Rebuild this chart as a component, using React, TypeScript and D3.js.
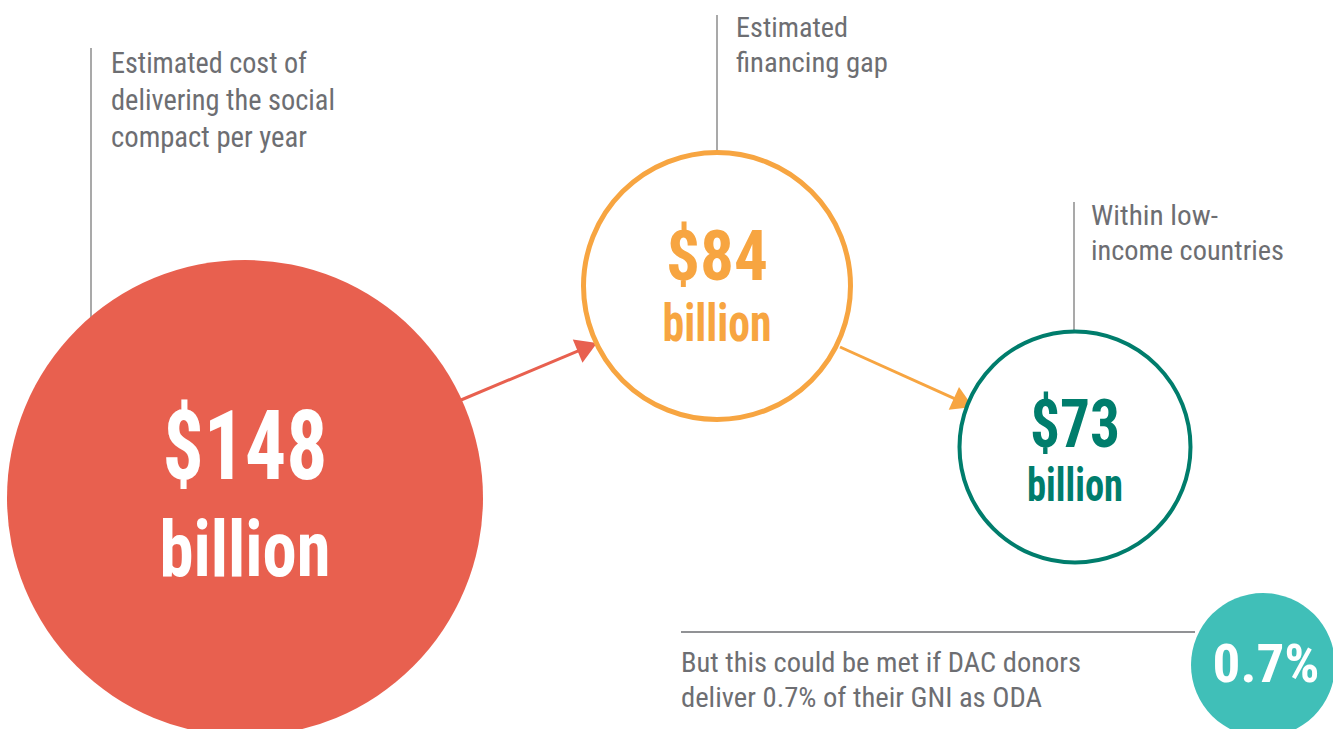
import React from "react";
import * as d3 from "d3";

// ---- data ----
const amounts = [148, 84, 73];
const amountLabels = ["$148", "$84", "$73"];
const unitLabel = "billion";
const captions = [
  ["Estimated cost of", "delivering the social", "compact per year"],
  ["Estimated", "financing gap"],
  ["Within low-", "income countries"],
];
const odaShare = 0.7;
const odaLabel = d3.format(".1f")(odaShare) + "%";
const noteLines = ["But this could be met if DAC donors", "deliver 0.7% of their GNI as ODA"];

// ---- layout / style ----
const W = 1333;
const H = 729;
const GREY = "#6d6e72";
const LINE_GREY = "#8c8c8c";
const FONT = "'Roboto Condensed', 'Liberation Sans Narrow', 'Liberation Sans', Arial, sans-serif";

const circles = [
  { cx: 245, cy: 498, r: 238, fill: "#e8604f", stroke: "none", sw: 0, text: "#ffffff",
    numSize: 96, numBase: 479, numW: 165, unitSize: 78, unitBase: 576, unitW: 171 },
  { cx: 717, cy: 286, r: 133.5, fill: "#ffffff", stroke: "#f7a541", sw: 5, text: "#f7a541",
    numSize: 71, numBase: 280, numW: 102, unitSize: 51, unitBase: 341, unitW: 109 },
  { cx: 1075, cy: 447, r: 115.5, fill: "#ffffff", stroke: "#007d6c", sw: 4, text: "#007d6c",
    numSize: 66, numBase: 447, numW: 90, unitSize: 46, unitBase: 501, unitW: 96 },
];

const captionLayout = [
  { lx: 91, ly1: 48, ly2: 330, tx: 111, base: 73, step: 37, size: 29, widths: [196, 224, 196] },
  { lx: 717, ly1: 15, ly2: 152, tx: 736, base: 37, step: 35, size: 27.5, widths: [112, 152] },
  { lx: 1074, ly1: 202, ly2: 331, tx: 1091, base: 225, step: 35, size: 27.5, widths: [127, 193] },
];

const arrows = [
  { x1: 461, y1: 400, x2: 597, y2: 343, color: "#e8604f" },
  { x1: 840, y1: 347, x2: 973, y2: 407, color: "#f7a541" },
];

const oda = { cx: 1263, cy: 665, r: 72, fill: "#40bfb8", size: 54, base: 682, w: 107 };
const note = { x1: 681, x2: 1195, y: 632, tx: 681, base: 672, step: 35, size: 27.5, widths: [400, 361] };

function Arrow({ a }: { a: typeof arrows[number] }) {
  const headLen = 21;
  const headW = 25;
  const dx = a.x2 - a.x1;
  const dy = a.y2 - a.y1;
  const len = Math.hypot(dx, dy);
  const ux = dx / len;
  const uy = dy / len;
  const bx = a.x2 - ux * headLen;
  const by = a.y2 - uy * headLen;
  const px = -uy * headW / 2;
  const py = ux * headW / 2;
  const head = d3.path();
  head.moveTo(a.x2, a.y2);
  head.lineTo(bx + px, by + py);
  head.lineTo(bx - px, by - py);
  head.closePath();
  return (
    <g>
      <line x1={a.x1} y1={a.y1} x2={bx + ux * 2} y2={by + uy * 2} stroke={a.color} strokeWidth={3} />
      <path d={head.toString()} fill={a.color} />
    </g>
  );
}

export default function App() {
  return (
    <svg width={W} height={H} style={{ position: "absolute", left: 0, top: 0, background: "#fff" }}
      fontFamily={FONT}>
      {captionLayout.map((c, i) => (
        <line key={"l" + i} x1={c.lx} x2={c.lx} y1={c.ly1} y2={c.ly2} stroke={LINE_GREY} strokeWidth={1.5} />
      ))}
      {captions.map((lines, i) => {
        const c = captionLayout[i];
        return (
          <g key={"c" + i} fill={GREY} fontSize={c.size}>
            {lines.map((t, j) => (
              <text key={j} x={c.tx} y={c.base + j * c.step} textLength={c.widths[j]} lengthAdjust="spacingAndGlyphs">{t}</text>
            ))}
          </g>
        );
      })}
      {arrows.map((a, i) => <Arrow key={"a" + i} a={a} />)}
      {amounts.map((v, i) => {
        const c = circles[i];
        return (
          <g key={"k" + i}>
            <circle cx={c.cx} cy={c.cy} r={c.r} fill={c.fill} stroke={c.stroke} strokeWidth={c.sw} />
            <text x={c.cx - c.numW / 2} y={c.numBase} fill={c.text} fontWeight="bold" fontSize={c.numSize}
              textLength={c.numW} lengthAdjust="spacingAndGlyphs">
              {amountLabels[i]}
            </text>
            <text x={c.cx - c.unitW / 2} y={c.unitBase} fill={c.text} fontWeight="bold" fontSize={c.unitSize}
              textLength={c.unitW} lengthAdjust="spacingAndGlyphs">
              {unitLabel}
            </text>
          </g>
        );
      })}
      <line x1={note.x1} x2={note.x2} y1={note.y} y2={note.y} stroke={GREY} strokeWidth={1.5} />
      <g fill={GREY} fontSize={note.size}>
        {noteLines.map((t, j) => (
          <text key={j} x={note.tx} y={note.base + j * note.step} textLength={note.widths[j]} lengthAdjust="spacingAndGlyphs">{t}</text>
        ))}
      </g>
      <circle cx={oda.cx} cy={oda.cy} r={oda.r} fill={oda.fill} />
      <text x={oda.cx + 3 - oda.w / 2} y={oda.base} fill="#fff" fontWeight="bold" fontSize={oda.size}
        textLength={oda.w} lengthAdjust="spacingAndGlyphs">
        {odaLabel}
      </text>
    </svg>
  );
}
